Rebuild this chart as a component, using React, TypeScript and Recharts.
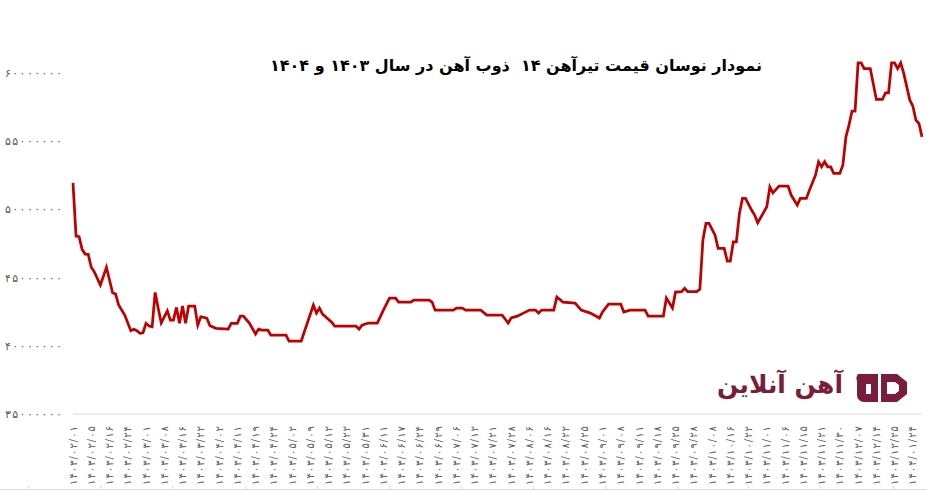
import React from "react";
import { LineChart, Line, XAxis, YAxis } from "recharts";

// قیمت تیرآهن ۱۴ ذوب آهن - نقاط شکست نمودار (اندیس روز و قیمت)
const dayIndex = [
  0, 1, 2, 3, 4, 5, 6, 7, 9, 11, 13, 14, 15, 17, 19, 20, 21, 22, 23, 24, 25, 26, 27, 28, 29, 30,
  31, 32, 33, 34, 35, 36, 37, 38, 40, 41, 42, 43, 44, 45, 47, 51, 52, 54, 55, 56, 58, 60, 61, 62,
  64, 65, 70, 71, 75, 79, 80, 81, 82, 85, 86, 93, 94, 95, 97, 100, 102, 104, 106, 107, 111, 112,
  117, 118, 119, 125, 126, 128, 129, 134, 136, 141, 143, 144, 146, 148, 150, 152, 153, 154, 158,
  159, 161, 165, 167, 170, 173, 174, 176, 180, 181, 183, 188, 189, 194, 195, 197, 198, 200, 201,
  202, 205, 206, 207, 208, 209, 211, 212, 214, 215, 216, 217, 218, 219, 220, 221, 223, 224, 225,
  228, 229, 230, 232, 235, 236, 238, 239, 241, 242, 244, 245, 246, 247, 248, 249, 250, 252, 253,
  254, 255, 256, 257, 258, 259, 260, 262, 264, 266, 267, 268, 269, 270, 271, 272, 273, 275, 276,
  277, 278, 279,
];

const prices = [
  51950000, 48050000, 48000000, 47070000, 46730000, 46710000, 45760000, 45430000, 44460000,
  45760000, 43890000, 43800000, 42990000, 42260000, 41110000, 41210000, 41110000, 40920000,
  40960000, 41650000, 41450000, 41400000, 43920000, 42750000, 41690000, 42130000, 42570000,
  41890000, 41890000, 42820000, 41650000, 42920000, 41650000, 42920000, 42920000, 41520000,
  42130000, 42090000, 42020000, 41470000, 41280000, 41230000, 41650000, 41650000, 42180000,
  42180000, 41650000, 40870000, 41230000, 41160000, 41160000, 40790000, 40790000, 40350000,
  40350000, 42990000, 42400000, 42770000, 42330000, 41740000, 41450000, 41450000, 41230000,
  41520000, 41670000, 41670000, 42620000, 43500000, 43500000, 43210000, 43210000, 43360000,
  43360000, 43210000, 42620000, 42620000, 42770000, 42770000, 42620000, 42620000, 42260000,
  42260000, 41670000, 42040000, 42180000, 42400000, 42620000, 42620000, 42400000, 42620000,
  42620000, 43580000, 43210000, 43140000, 42620000, 42400000, 42040000, 42480000, 43060000,
  43060000, 42480000, 42620000, 42620000, 42180000, 42180000, 43500000, 42770000, 43940000,
  43970000, 44220000, 43970000, 43970000, 44140000, 47760000, 48980000, 48980000, 48120000,
  47150000, 47150000, 46220000, 46220000, 47630000, 47630000, 49710000, 50810000, 50810000,
  49960000, 49590000, 49030000, 50200000, 51660000, 51220000, 51720000, 51720000, 51060000,
  50320000, 50810000, 50810000, 51420000, 52520000, 53500000, 53130000, 53500000, 53130000,
  53130000, 52650000, 52650000, 53260000, 55330000, 56190000, 57210000, 57210000, 60760000,
  60760000, 60340000, 60340000, 58070000, 58070000, 58560000, 58560000, 60760000, 60760000,
  60340000, 60760000, 59980000, 58020000, 57580000, 56550000, 56310000, 55330000,
];

// برچسب‌های محور افقی (هر ۶ روز یک برچسب)
const labelDates = [
  "1403/02/01", "1403/02/05", "1403/02/16", "1403/02/24", "1403/03/01", "1403/03/08",
  "1403/03/16", "1403/03/22", "1403/04/02", "1403/04/11", "1403/04/19", "1403/04/24",
  "1403/05/02", "1403/05/09", "1403/05/12", "1403/05/22", "1403/05/31", "1403/06/11",
  "1403/06/17", "1403/06/24", "1403/06/29", "1403/07/06", "1403/07/12", "1403/07/21",
  "1403/07/28", "1403/08/06", "1403/08/16", "1403/08/22", "1403/08/25", "1403/09/01",
  "1403/09/08", "1403/09/11", "1403/09/18", "1403/09/25", "1403/09/28", "1403/10/08",
  "1403/10/16", "1403/10/22", "1403/11/01", "1403/11/06", "1403/11/15", "1403/11/21",
  "1403/11/30", "1403/12/07", "1403/12/14", "1403/12/25", "1404/01/24",
];

const yTicks = [35000000, 40000000, 45000000, 50000000, 55000000, 60000000];

const rows = dayIndex.map((d, k) => ({ day: d, price: prices[k] }));
const labelTicks = labelDates.map((_, k) => k * 6);

const toFa = (s: string) => s.replace(/\d/g, (c) => "۰۱۲۳۴۵۶۷۸۹"[Number(c)]);

const DateTick = (props: any) => {
  const { x, y, payload } = props;
  const label = labelDates[Math.round(payload.value / 6)] ?? "";
  return (
    <text
      transform={`translate(${x},${y}) rotate(-90)`}
      textAnchor="end"
      dy="0.35em"
      fill="#595959"
      fontSize={10}
      textLength={59}
      lengthAdjust="spacing"
    >
      {toFa(label)}
    </text>
  );
};

const PriceTick = (props: any) => {
  const { x, y, payload } = props;
  return (
    <text
      x={x}
      y={y}
      textAnchor="end"
      dy="0.35em"
      fill="#595959"
      fontSize={11}
      textLength={57}
      lengthAdjust="spacing"
    >
      {toFa(String(payload.value))}
    </text>
  );
};

const pageMarks = [28, 100, 172, 245, 317, 389, 461, 533, 605, 677, 748, 820, 893];

export default function App() {
  return (
    <div style={{ position: "absolute", left: 0, top: 0, width: 927, height: 492, background: "#fff", fontFamily: "'DejaVu Sans', sans-serif" }}>
      <LineChart width={927} height={492} data={rows} margin={{ top: 5, right: 5, left: 3, bottom: 8 }}>
        <XAxis
          dataKey="day"
          type="number"
          domain={[0, 279]}
          ticks={labelTicks}
          interval={0}
          tick={<DateTick />}
          tickLine={false}
          tickSize={0}
          tickMargin={12}
          height={70}
          stroke="#d9d9d9"
        />
        <YAxis
          domain={[35000000, 65000000]}
          ticks={yTicks}
          interval={0}
          axisLine={false}
          tickLine={false}
          tickSize={0}
          tickMargin={11}
          width={70}
          tick={<PriceTick />}
        />
        <Line
          type="linear"
          dataKey="price"
          stroke="#c00000"
          strokeWidth={2.75}
          dot={false}
          isAnimationActive={false}
        />
      </LineChart>

      <div
        dir="rtl"
        style={{
          position: "absolute",
          top: 56,
          right: 165,
          fontWeight: "bold",
          fontSize: 16,
          whiteSpace: "pre",
          color: "#000",
        }}
      >
        نمودار نوسان قیمت تیرآهن ۱۴  ذوب آهن در سال ۱۴۰۳ و ۱۴۰۴
      </div>

      <div
        dir="rtl"
        style={{
          position: "absolute",
          top: 370,
          right: 84,
          fontWeight: "bold",
          fontSize: 25,
          whiteSpace: "nowrap",
          color: "#7a1d3c",
        }}
      >
        آهن آنلاین
      </div>

      <svg width={927} height={492} style={{ position: "absolute", left: 0, top: 0, pointerEvents: "none" }}>
        <line x1={0} y1={489.5} x2={927} y2={489.5} stroke="#dcdcdc" />
        {pageMarks.map((mx) => (
          <line key={mx} x1={mx + 0.5} y1={486} x2={mx + 0.5} y2={489} stroke="#dcdcdc" />
        ))}
        <path d="M858 374 h20 v28 h-14 a7 7 0 0 1 -7 -7 v-14 a7 7 0 0 1 1 -7 z M866 384 v10 h5 v-10 z" fill="#7a1d3c" fillRule="evenodd" />
        <path d="M881 374 h16 l10 8 v12 l-10 8 h-16 z M887 382 v12 h8 l4 -3 v-6 l-4 -3 z" fill="#7a1d3c" fillRule="evenodd" />
      </svg>
    </div>
  );
}
